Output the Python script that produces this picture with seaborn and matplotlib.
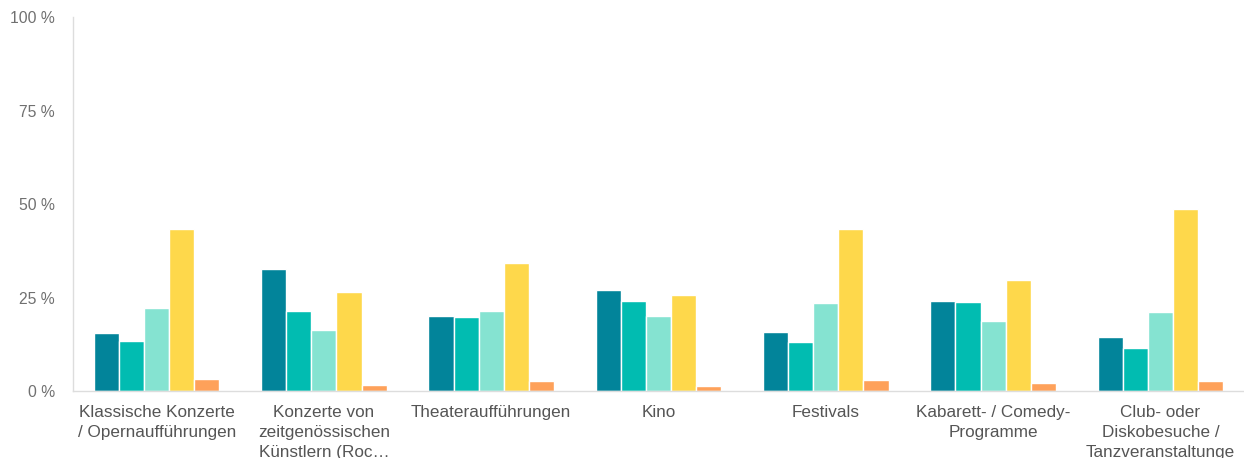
import matplotlib
matplotlib.use("Agg")
import matplotlib.pyplot as plt
import seaborn as sns
import pandas as pd

categories = [
    "Klassische Konzerte\n/ Opernaufführungen",
    "Konzerte von\nzeitgenössischen\nKünstlern (Roc…",
    "Theateraufführungen",
    "Kino",
    "Festivals",
    "Kabarett- / Comedy-\nProgramme",
    "Club- oder\nDiskobesuche /\nTanzveranstaltunge",
]
series_names = ["Serie 1", "Serie 2", "Serie 3", "Serie 4", "Serie 5"]
serie1 = [15.6, 32.8, 20.2, 27.1, 15.9, 24.2, 14.6]
serie2 = [13.6, 21.5, 19.9, 24.2, 13.2, 23.8, 11.6]
serie3 = [22.2, 16.3, 21.5, 20.2, 23.5, 18.9, 21.2]
serie4 = [43.4, 26.5, 34.4, 25.8, 43.4, 29.8, 48.6]
serie5 = [3.3, 1.7, 2.7, 1.4, 3.0, 2.4, 2.7]
colors = ["#02849A", "#01BCB1", "#85E3D1", "#FED84B", "#FEA15A"]
yticks = [0, 25, 50, 75, 100]
ytick_labels = ["0 %", "25 %", "50 %", "75 %", "100 %"]

rows = []
for name, vals in zip(series_names, [serie1, serie2, serie3, serie4, serie5]):
    for c, v in zip(categories, vals):
        rows.append({"Kategorie": c, "Serie": name, "Wert": v})
df = pd.DataFrame(rows)

sns.set_theme(style="white")
plt.rcParams["font.family"] = ["Liberation Sans", "DejaVu Sans"]

fig = plt.figure(figsize=(12.44, 4.58), dpi=100)
ax = fig.add_axes([0.0587, 0.1452, 0.9413, 0.8177])

sns.barplot(data=df, x="Kategorie", y="Wert", hue="Serie", order=categories,
            hue_order=series_names, palette=colors, saturation=1, width=0.75,
            edgecolor="white", linewidth=1, errorbar=None, legend=False, ax=ax)

ax.set_ylim(0, 100)
ax.set_xlim(-0.5, len(categories) - 0.5)
ax.set_yticks(yticks)
ax.set_yticklabels(ytick_labels)
ax.set_xlabel("")
ax.set_ylabel("")
ax.tick_params(axis="y", length=0, pad=13, labelsize=11.3, labelcolor="#707070")
ax.tick_params(axis="x", length=0, pad=9.5, labelsize=12.3, labelcolor="#555555")
for lbl in ax.get_xticklabels():
    lbl.set_linespacing(1.42)
for s in ["top", "right"]:
    ax.spines[s].set_visible(False)
for s in ["left", "bottom"]:
    ax.spines[s].set_color("#DDDDDD")
    ax.spines[s].set_linewidth(1)

fig.savefig("out.png", dpi=100)
